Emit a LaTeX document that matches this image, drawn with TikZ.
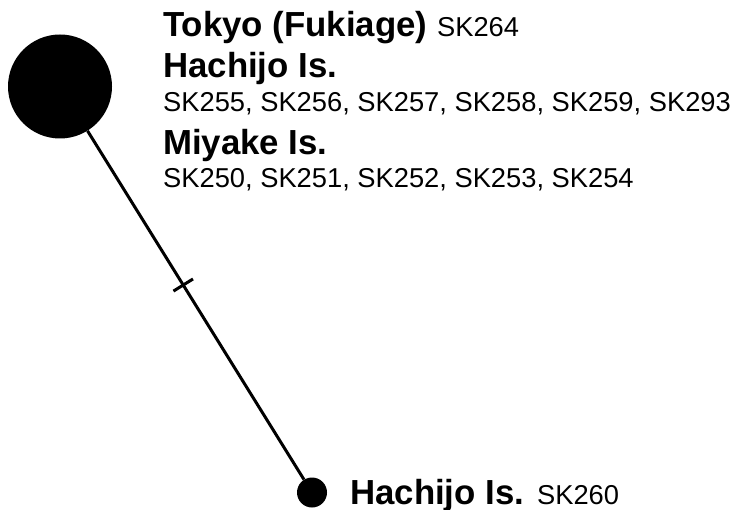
\documentclass[tikz,border=0pt]{standalone}
\usepackage{fontspec}
\setmainfont{Liberation Sans}
\usetikzlibrary{calc}
\tikzset{
  hap/.style={circle, fill=black, inner sep=0pt},
  edge/.style={line width=3pt},
  place/.style={anchor=base west, inner sep=0pt, font=\fontsize{34.8}{40}\selectfont\bfseries},
  ids/.style={anchor=base west, inner sep=0pt, font=\fontsize{27.3}{32}\selectfont},
}
\newcommand{\idfont}{\fontsize{27.3}{32}\selectfont\mdseries}
\begin{document}
\begin{tikzpicture}[x=1pt,y=-1pt]
\useasboundingbox (0,0) rectangle (730,510);
% haplotype circles
\node[hap, minimum size=104pt] (big) at (60,86.5) {};
\node[hap, minimum size=30pt] (small) at (312,492.5) {};
% connecting branch with one mutation step
\draw[edge] (big) -- (small);
\coordinate (tk) at ($(big)!0.489!(small)$);
\draw[edge] ($(tk)!11.5pt!90:(small)$) -- ($(tk)!11.5pt!-90:(small)$);
% labels
\node[place] (l1) at (163,37) {Tokyo (Fukiage) {\idfont SK264}};
\node[place] (l2) at (163,77.5) {Hachijo Is.};
\node[ids] (l3) at (163,112) {SK255, SK256, SK257, SK258, SK259, SK293};
\node[place] (l4) at (163,154.5) {Miyake Is.};
\node[ids] (l5) at (163,188) {SK250, SK251, SK252, SK253, SK254};
\node[place] (l6) at (350,504) {Hachijo Is. {\idfont SK260}};
\end{tikzpicture}
\end{document}
